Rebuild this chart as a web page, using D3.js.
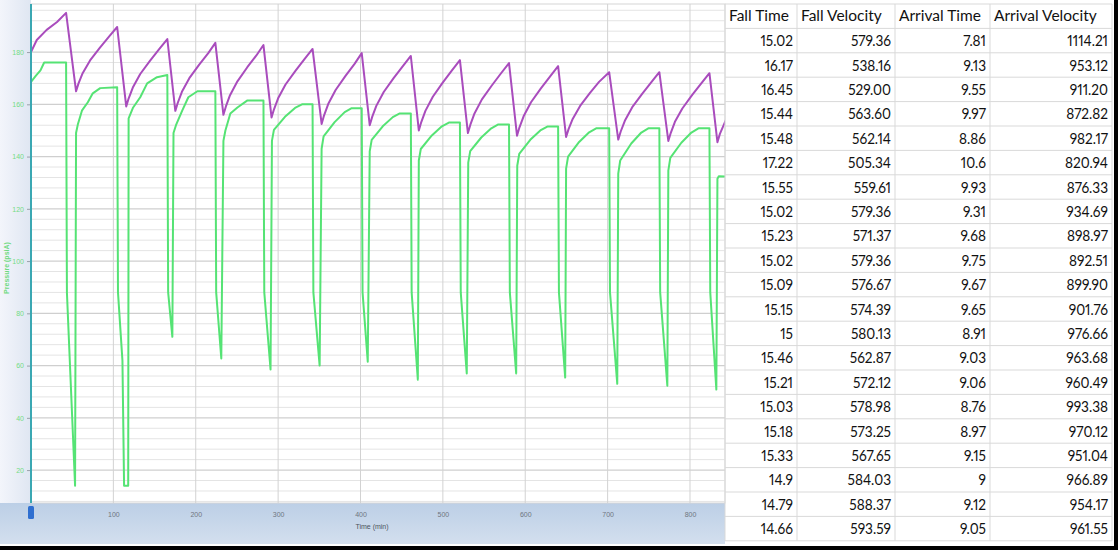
<!DOCTYPE html>
<html>
<head>
<meta charset="utf-8">
<script src="https://cdn.jsdelivr.net/npm/d3@7"></script>
<style>
  html, body { margin: 0; padding: 0; background: #fff; }
  svg { display: block; }
</style>
</head>
<body>
<div class="canvas"></div>
<script>
// purple trace: [time (min), pressure (psiA)]
const purpleSeries = [
  [0,180],[7,184.6],[19,188.5],[31.6,191.5],[42.6,195],
  [54.7,165],[57.7,168],[62.7,171.9],[71.7,176.8],[83.7,181.7],[94.7,185.9],[104.6,189.6],
  [115.6,159.2],[118.6,162.3],[123.6,166.4],[132.6,171.6],[144.6,176.7],[155.6,181.1],[165.5,185],
  [175.2,157.5],[178.2,160.6],[183.2,164.8],[192.2,170],[204.2,175.2],[215.2,179.6],[223.8,183.5],
  [233.6,156],[236.6,159.2],[241.6,163.5],[250.6,168.8],[262.6,174.2],[273.6,178.7],[282.2,182.7],
  [292,155],[295,158.1],[300,162.3],[309,167.6],[321,172.8],[332,177.3],[341.8,181.2],
  [352.8,152.5],[355.8,155.8],[360.8,160.1],[369.8,165.5],[381.8,170.9],[392.8,175.5],[401.5,179.6],
  [411.2,152],[414.2,155.2],[419.2,159.4],[428.2,164.7],[440.2,170],[451.2,174.5],[461.1,178.5],
  [470.8,150],[473.8,153.2],[478.8,157.5],[487.8,162.9],[499.8,168.3],[510.8,172.9],[520.7,176.9],
  [530.4,149],[533.4,152.2],[538.4,156.5],[547.4,161.9],[559.4,167.2],[570.4,171.8],[580.3,175.8],
  [590,148],[593,151.2],[598,155.4],[607,160.8],[619,166.1],[630,170.6],[639.9,174.6],
  [649.6,147.5],[652.6,150.5],[657.6,154.4],[666.6,159.4],[678.6,164.4],[689.6,168.6],[701.9,172.3],
  [712.9,146.5],[715.9,149.6],[720.9,153.7],[729.9,158.9],[741.9,164],[752.9,168.4],[762.8,172.3],
  [773.7,146],[776.7,149.1],[781.7,153.3],[790.7,158.4],[802.7,163.6],[813.7,168],[823.6,171.9],
  [833.3,145.5],[836.3,148.7],[844,154.3]
];

// green trace: [time (min), pressure (psiA)]
const greenSeries = [
  [0,168.5],[1,169],[6,171],[11.5,173],[16,176],[42.6,176],
  [43.6,88],[53.5,14],[54.7,149],
  [57,152.5],[62,157.7],[69,160.8],[75,164.2],[84,166.2],[104.6,166.5],
  [105.6,88],[111,62],[113,14],[118,14],[118.5,154.6],
  [124,158.8],[132.6,162.7],[141,168],[153,170.4],[165.5,171.2],
  [166.5,88],[171.6,71],[173,149],
  [176,152],[183.7,157.7],[191,162.7],[202,165],[223.8,165],
  [224.8,88],[231,62.7],[233.6,146],
  [236,150],[242,156.5],[250.6,158.8],[262.8,161.5],[282.2,161.5],
  [283.2,88],[290.8,58.5],[292.5,146],
  [294.9,150.2],[308.3,155.2],[320.5,158.6],[329,160],[341.8,160],
  [342.8,88],[350.4,60],[352.8,143],
  [355.2,147.7],[368.6,153.2],[380.8,157],[389.3,158.5],[401.5,158.5],
  [402.5,88],[408.8,61.5],[411.2,142],
  [413.6,146.4],[427,151.6],[439.2,155.1],[447.7,156.5],[461.1,156.5],
  [462.1,88],[469.6,54.6],[470.8,138.5],
  [473.2,142.9],[486.6,148.1],[498.8,151.6],[507.3,153],[520.7,153],
  [521.7,88],[529,57],[530.8,137.7],
  [533.2,142.1],[546.6,147.3],[558.8,150.8],[567.3,152.3],[580.3,152.3],
  [581.3,88],[589,57],[590.3,136.5],
  [592.7,141],[606.1,146.4],[618.3,150],[626.8,151.5],[639.9,151.5],
  [640.9,88],[648.5,55.4],[649.6,135.4],
  [652,140],[665.4,145.6],[677.6,149.3],[686.1,150.8],[701.9,150.8],
  [702.9,88],[711.7,53],[712.9,133.5],
  [715.3,138.5],[728.7,145],[740.9,149.2],[749.4,150.8],[762.8,150.8],
  [763.8,88],[772.5,52.3],[773.7,134.6],
  [776.1,139.5],[789.5,145.3],[801.7,149.2],[810.2,150.8],[823.6,150.8],
  [824.6,88],[832,50.8],[833.3,131.5],
  [835,132.5],[844,132.3]
];

const timeTicks = [100, 200, 300, 400, 500, 600, 700, 800];
const pressureTicks = [20, 40, 60, 80, 100, 120, 140, 160, 180];

const tableHeaders = ["Fall Time", "Fall Velocity", "Arrival Time", "Arrival Velocity"];
const fallTime = ["15.02","16.17","16.45","15.44","15.48","17.22","15.55","15.02","15.23","15.02","15.09",
  "15.15","15","15.46","15.21","15.03","15.18","15.33","14.9","14.79","14.66"];
const fallVelocity = ["579.36","538.16","529.00","563.60","562.14","505.34","559.61","579.36","571.37","579.36","576.67",
  "574.39","580.13","562.87","572.12","578.98","573.25","567.65","584.03","588.37","593.59"];
const arrivalTime = ["7.81","9.13","9.55","9.97","8.86","10.6","9.93","9.31","9.68","9.75","9.67",
  "9.65","8.91","9.03","9.06","8.76","8.97","9.15","9","9.12","9.05"];
const arrivalVelocity = ["1114.21","953.12","911.20","872.82","982.17","820.94","876.33","934.69","898.97","892.51","899.90",
  "901.76","976.66","963.68","960.49","993.38","970.12","951.04","966.89","954.17","961.55"];

const width = 1118, height = 550;
const plot = {left: 31, right: 725, top: 4, bottom: 503};

const svg = d3.select(".canvas").append("svg")
    .attr("width", width)
    .attr("height", height);

const defs = svg.append("defs");
const leftGrad = defs.append("linearGradient").attr("id", "leftGrad")
    .attr("x1", "0").attr("x2", "1").attr("y1", "0").attr("y2", "0");
leftGrad.append("stop").attr("offset", "0").attr("stop-color", "#f3f5fb");
leftGrad.append("stop").attr("offset", "1").attr("stop-color", "#dfe6f2");
const bottomGrad = defs.append("linearGradient").attr("id", "bottomGrad")
    .attr("x1", "0").attr("x2", "0").attr("y1", "0").attr("y2", "1");
bottomGrad.append("stop").attr("offset", "0").attr("stop-color", "#bccfe6");
bottomGrad.append("stop").attr("offset", "1").attr("stop-color", "#d3dfee");
defs.append("clipPath").attr("id", "plotClip")
  .append("rect")
    .attr("x", plot.left).attr("y", plot.top)
    .attr("width", plot.right - plot.left).attr("height", plot.bottom - plot.top);

// background bands
svg.append("rect").attr("x", 0).attr("y", 0).attr("width", plot.left).attr("height", plot.bottom)
    .attr("fill", "url(#leftGrad)");
svg.append("rect").attr("x", 0).attr("y", plot.bottom).attr("width", plot.right).attr("height", 41)
    .attr("fill", "url(#bottomGrad)");
svg.append("rect").attr("x", plot.left).attr("y", plot.top)
    .attr("width", plot.right - plot.left).attr("height", plot.bottom - plot.top)
    .attr("fill", "#ffffff").attr("stroke", "#d6d6d6");

const x = d3.scaleLinear().domain([0, 842.5]).range([plot.left, plot.right]);
const y = d3.scaleLinear().domain([7.4, 198.4]).range([plot.bottom, plot.top]);

// grid
const grid = svg.append("g");
grid.selectAll(".minor").data(d3.range(8, 198, 4).filter(v => v % 20 !== 0))
  .enter().append("line")
    .attr("x1", plot.left).attr("x2", plot.right)
    .attr("y1", d => y(d)).attr("y2", d => y(d))
    .attr("stroke", "#e4e4e4").attr("stroke-width", 1);
grid.selectAll(".major").data(pressureTicks)
  .enter().append("line")
    .attr("x1", plot.left).attr("x2", plot.right)
    .attr("y1", d => y(d)).attr("y2", d => y(d))
    .attr("stroke", "#cfcfcf").attr("stroke-width", 1.2);
grid.selectAll(".vert").data(timeTicks)
  .enter().append("line")
    .attr("x1", d => x(d)).attr("x2", d => x(d))
    .attr("y1", plot.top).attr("y2", plot.bottom)
    .attr("stroke", "#d2d2d2").attr("stroke-width", 1);

// traces
const line = d3.line().x(d => x(d[0])).y(d => y(d[1]));
const traces = svg.append("g").attr("clip-path", "url(#plotClip)");
traces.append("path").datum(greenSeries)
    .attr("d", line).attr("fill", "none")
    .attr("stroke", "#55e374").attr("stroke-width", 2).attr("stroke-linejoin", "round");
traces.append("path").datum(purpleSeries)
    .attr("d", line).attr("fill", "none")
    .attr("stroke", "#a94cbd").attr("stroke-width", 2).attr("stroke-linejoin", "round");

// axes
const yAxis = svg.append("g")
    .attr("transform", `translate(${plot.left},0)`)
    .call(d3.axisLeft(y).tickValues(pressureTicks).tickSize(4).tickPadding(3));
yAxis.select(".domain").remove();
yAxis.selectAll(".tick line").attr("stroke", "#9aa0aa");
yAxis.selectAll(".tick text")
    .attr("fill", "#74dc84").attr("font-size", "7px").attr("font-family", "Liberation Sans, Arial, sans-serif");
svg.append("line")
    .attr("x1", plot.left).attr("x2", plot.left)
    .attr("y1", plot.top).attr("y2", plot.bottom)
    .attr("stroke", "#3aa7b2").attr("stroke-width", 2);

const xAxis = svg.append("g")
    .attr("transform", `translate(0,${plot.bottom})`)
    .call(d3.axisBottom(x).tickValues(timeTicks).tickSize(0).tickPadding(9));
xAxis.select(".domain").remove();
xAxis.selectAll(".tick text")
    .attr("fill", "#6f7680").attr("font-size", "7px").attr("font-family", "Liberation Sans, Arial, sans-serif");

svg.append("text")
    .attr("x", 372).attr("y", 529)
    .attr("text-anchor", "middle")
    .attr("font-size", "7px").attr("font-family", "Liberation Sans, Arial, sans-serif")
    .attr("fill", "#4c5560")
    .text("Time  (min)");
svg.append("text")
    .attr("transform", "translate(9,268) rotate(-90)")
    .attr("text-anchor", "middle")
    .attr("font-size", "7px").attr("font-weight", "bold").attr("font-family", "Liberation Sans, Arial, sans-serif")
    .attr("fill", "#6fda80")
    .text("Pressure  (psiA)");

// scroll thumb at the origin
svg.append("rect")
    .attr("x", plot.left - 3).attr("y", plot.bottom + 3)
    .attr("width", 6).attr("height", 13).attr("rx", 1.5)
    .attr("fill", "#2f6fd0");

// table
const colEdges = [725, 797, 895, 990, 1112];
const rowH = 24.4, headTop = 4;
const columns = [fallTime, fallVelocity, arrivalTime, arrivalVelocity];
const nRows = fallTime.length;
const table = svg.append("g");

table.selectAll(".hline").data(d3.range(nRows + 2))
  .enter().append("line")
    .attr("x1", colEdges[0]).attr("x2", colEdges[4])
    .attr("y1", i => headTop + i * rowH).attr("y2", i => headTop + i * rowH)
    .attr("stroke", "#d9d9d9");
table.selectAll(".vline").data(colEdges)
  .enter().append("line")
    .attr("x1", d => d).attr("x2", d => d)
    .attr("y1", headTop).attr("y2", headTop + (nRows + 1) * rowH)
    .attr("stroke", "#d9d9d9");

table.selectAll(".head").data(tableHeaders)
  .enter().append("text")
    .attr("x", (d, i) => colEdges[i] + 4)
    .attr("y", headTop + rowH / 2 + 5)
    .attr("font-size", "15.5px").attr("font-family", "Lato, sans-serif")
    .attr("fill", "#111")
    .text(d => d);

columns.forEach((col, c) => {
  table.selectAll(".c" + c).data(col)
    .enter().append("text")
      .attr("transform", (d, i) => `translate(${colEdges[c + 1] - 4},${headTop + (i + 1.5) * rowH + 5.5}) scale(0.88,1)`)
      .attr("text-anchor", "end")
      .attr("font-size", "15.5px").attr("font-family", "Lato, sans-serif")
      .style("font-variant-numeric", "proportional-nums")
      .attr("fill", "#111")
      .text(d => d);
});

// outer frame
svg.append("rect").attr("x", 0).attr("y", 546).attr("width", width).attr("height", 4).attr("fill", "#000");
svg.append("rect").attr("x", 1114).attr("y", 0).attr("width", 4).attr("height", height).attr("fill", "#000");
</script>
</body>
</html>
